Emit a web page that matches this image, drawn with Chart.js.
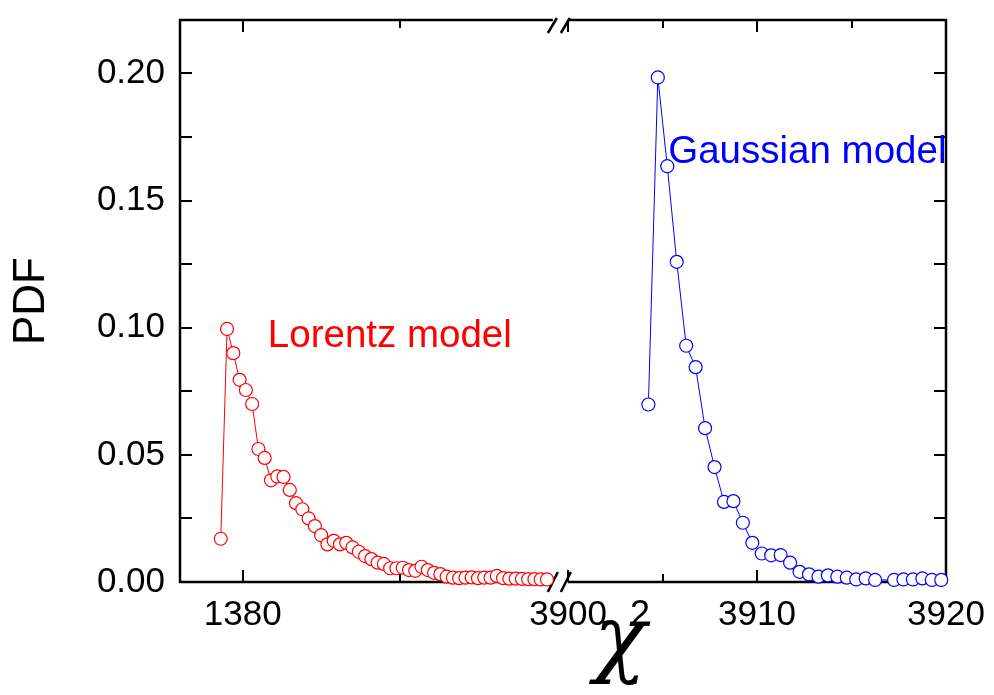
<!DOCTYPE html>
<html lang="en">
<head>
    <meta charset="UTF-8">
    <title>PDF of chi2</title>
    <script src="https://cdn.jsdelivr.net/npm/chart.js"></script>
    <style>
        html, body { margin: 0; padding: 0; background: #fff; }
    </style>
</head>
<body>
    <canvas id="myChart" width="994" height="695"></canvas>

    <script type="text/javascript">
        // Lorentz model (left part of the broken axis)
        const lorentzX = [1379.3, 1379.5, 1379.7, 1379.9, 1380.1, 1380.3, 1380.5, 1380.7, 1380.9, 1381.1,
            1381.3, 1381.5, 1381.7, 1381.9, 1382.1, 1382.3, 1382.5, 1382.7, 1382.9, 1383.1,
            1383.3, 1383.5, 1383.7, 1383.9, 1384.1, 1384.3, 1384.5, 1384.7, 1384.9, 1385.1,
            1385.3, 1385.5, 1385.7, 1385.9, 1386.1, 1386.3, 1386.5, 1386.7, 1386.9, 1387.1,
            1387.3, 1387.5, 1387.7, 1387.9, 1388.1, 1388.3, 1388.5, 1388.7, 1388.9, 1389.1,
            1389.3, 1389.5, 1389.7];
        const lorentzY = [0.017, 0.0995, 0.090, 0.0795, 0.0755, 0.070, 0.0523, 0.0488, 0.040, 0.0415,
            0.0413, 0.0362, 0.031, 0.0286, 0.025, 0.022, 0.0184, 0.0148, 0.0162, 0.0148,
            0.0154, 0.0136, 0.0119, 0.0102, 0.009, 0.0076, 0.0071, 0.0054, 0.0054, 0.0056,
            0.0047, 0.0044, 0.006, 0.0047, 0.0036, 0.0031, 0.0021, 0.0017, 0.0015, 0.0017,
            0.0018, 0.0015, 0.0017, 0.0017, 0.0024, 0.0015, 0.0013, 0.0013, 0.0012, 0.0011,
            0.0011, 0.001, 0.001];

        // Gaussian model (right part of the broken axis)
        const gaussX = [3904.25, 3904.75, 3905.25, 3905.75, 3906.25, 3906.75, 3907.25, 3907.75, 3908.25, 3908.75,
            3909.25, 3909.75, 3910.25, 3910.75, 3911.25, 3911.75, 3912.25, 3912.75, 3913.25, 3913.75,
            3914.25, 3914.75, 3915.25, 3915.75, 3916.25, 3917.25, 3917.75, 3918.25, 3918.75, 3919.25,
            3919.75];
        const gaussY = [0.0698, 0.1984, 0.1635, 0.1259, 0.0929, 0.0845, 0.0605, 0.0452, 0.0315, 0.0318,
            0.0233, 0.0154, 0.0112, 0.0105, 0.0106, 0.0076, 0.004, 0.003, 0.0021, 0.0026,
            0.0021, 0.0017, 0.001, 0.0014, 0.0008, 0.0008, 0.001, 0.001, 0.0014, 0.0008,
            0.0008];

        // tick labels
        const xLeftLabels = [1380];
        const xRightLabels = [3900, 3910, 3920];
        const yLabels = [0, 0.05, 0.10, 0.15, 0.20];

        const FONT = "'Liberation Sans', Arial, sans-serif";
        Chart.defaults.font.family = FONT;
        Chart.defaults.color = '#000';

        function toPoints(xs, ys) {
            return xs.map((x, i) => ({ x: x, y: ys[i] }));
        }

        function has(list, v) {
            return list.some(l => Math.abs(l - v) < 1e-9);
        }

        // fixed axis boxes so the plot area lands where the original one is
        function fitX(s) {
            s.height = 113;
            s.paddingLeft = 0; s.paddingRight = 0;
        }
        function fitY(s) {
            s.width = 180;
            s.paddingTop = 0; s.paddingBottom = 0;
        }

        const framePlugin = {
            id: 'frame',
            beforeDatasetsDraw(chart) {
                const { ctx, chartArea: a, scales } = chart;
                const xL = scales.xL, xR = scales.xR, y = scales.y;
                const xj = xL.right;
                ctx.save();
                ctx.strokeStyle = '#000';
                ctx.lineWidth = 2.5;
                ctx.beginPath();
                ctx.moveTo(a.left, a.top - 1.2); ctx.lineTo(a.left, a.bottom + 1.2);
                ctx.moveTo(a.right, a.top - 1.2); ctx.lineTo(a.right, a.bottom + 1.2);
                [a.top, a.bottom].forEach(yy => {
                    ctx.moveTo(a.left, yy); ctx.lineTo(xj - 2, yy);
                    ctx.moveTo(xj + 13, yy); ctx.lineTo(a.right, yy);
                });
                ctx.stroke();

                // inward ticks
                ctx.lineWidth = 2;
                ctx.beginPath();
                y.ticks.forEach(t => {
                    const py = Math.round(y.getPixelForValue(t.value));
                    ctx.moveTo(a.left, py); ctx.lineTo(a.left + 12, py);
                    ctx.moveTo(a.right, py); ctx.lineTo(a.right - 12, py);
                });
                [xL, xR].forEach(s => s.ticks.forEach(t => {
                    const px = Math.round(s.getPixelForValue(t.value));
                    const len = Math.abs(t.value % 10) < 1e-6 ? 12 : 8;
                    ctx.moveTo(px, a.bottom); ctx.lineTo(px, a.bottom - len);
                    ctx.moveTo(px, a.top); ctx.lineTo(px, a.top + len);
                }));
                ctx.stroke();

                // axis break marks
                ctx.lineWidth = 2.5;
                ctx.beginPath();
                [xj - 2, xj + 11].forEach(c => {
                    ctx.moveTo(c - 5, a.bottom + 10); ctx.lineTo(c + 5, a.bottom - 10);
                    ctx.moveTo(c - 5, a.top + 13); ctx.lineTo(c + 4, a.top - 2);
                });
                ctx.stroke();
                ctx.restore();
            },
            afterDraw(chart) {
                const { ctx, scales } = chart;
                const xL = scales.xL, xR = scales.xR, y = scales.y;
                ctx.save();
                ctx.textAlign = 'left';
                ctx.textBaseline = 'alphabetic';
                ctx.font = '38.5px ' + FONT;
                ctx.fillStyle = '#ff0000';
                ctx.fillText('Lorentz model', xL.getPixelForValue(1380.8), y.getPixelForValue(0.0925));
                ctx.fillStyle = '#0000ff';
                ctx.fillText('Gaussian model', xR.getPixelForValue(3905.3), y.getPixelForValue(0.1647));

                // axis titles
                ctx.fillStyle = '#000';
                ctx.save();
                ctx.translate(44, 301);
                ctx.rotate(-Math.PI / 2);
                ctx.textAlign = 'center';
                ctx.font = '44px ' + FONT;
                ctx.fillText('PDF', 0, 0);
                ctx.restore();

                ctx.textAlign = 'center';
                ctx.font = "italic 86px 'DejaVu Serif', serif";
                ctx.fillText('χ', 620, 666);
                ctx.font = '36px ' + FONT;
                ctx.fillText('2', 640, 626);
                ctx.restore();
            }
        };

        const ctx = document.getElementById('myChart');

        const myChart = new Chart(ctx, {
            type: 'line',
            data: {
                datasets: [{
                    label: 'Lorentz model',
                    data: toPoints(lorentzX, lorentzY),
                    xAxisID: 'xL',
                    yAxisID: 'y',
                    borderColor: '#ff0000',
                    backgroundColor: '#ffffff',
                    borderWidth: 1,
                    pointRadius: 6.5,
                    pointBorderWidth: 1.2,
                    pointBorderColor: '#ff0000',
                    pointBackgroundColor: '#ffffff',
                    tension: 0,
                    clip: false
                }, {
                    label: 'Gaussian model',
                    data: toPoints(gaussX, gaussY),
                    xAxisID: 'xR',
                    yAxisID: 'y',
                    borderColor: '#0000ff',
                    backgroundColor: '#ffffff',
                    borderWidth: 1,
                    pointRadius: 6.5,
                    pointBorderWidth: 1.2,
                    pointBorderColor: '#0000ff',
                    pointBackgroundColor: '#ffffff',
                    tension: 0,
                    clip: false
                }]
            },
            options: {
                responsive: false,
                animation: false,
                layout: { padding: { top: 20, right: 48, left: 0, bottom: 0 } },
                plugins: {
                    legend: { display: false },
                    tooltip: { enabled: false }
                },
                scales: {
                    xL: {
                        type: 'linear',
                        position: 'bottom',
                        stack: 'x',
                        stackWeight: 374.9,
                        min: 1378,
                        max: 1389.95,
                        grid: { display: false, drawTicks: false },
                        border: { display: false },
                        afterFit: fitX,
                        ticks: {
                            stepSize: 5,
                            includeBounds: false,
                            autoSkip: false,
                            maxRotation: 0,
                            padding: 12,
                            font: { size: 35 },
                            callback: v => has(xLeftLabels, v) ? String(v) : ''
                        }
                    },
                    xR: {
                        type: 'linear',
                        position: 'bottom',
                        stack: 'x',
                        stackWeight: 391.2,
                        min: 3899.3,
                        max: 3920,
                        grid: { display: false, drawTicks: false },
                        border: { display: false },
                        afterFit: fitX,
                        ticks: {
                            stepSize: 5,
                            includeBounds: false,
                            autoSkip: false,
                            maxRotation: 0,
                            padding: 12,
                            font: { size: 35 },
                            callback: v => has(xRightLabels, v) ? String(v) : ''
                        }
                    },
                    y: {
                        type: 'linear',
                        position: 'left',
                        min: 0,
                        max: 0.221,
                        grid: { display: false, drawTicks: false },
                        border: { display: false },
                        afterFit: fitY,
                        ticks: {
                            stepSize: 0.025,
                            includeBounds: false,
                            autoSkip: false,
                            padding: 15,
                            font: { size: 35 },
                            callback: v => has(yLabels, v) ? v.toFixed(2) : ''
                        }
                    }
                }
            },
            plugins: [framePlugin]
        });
    </script>
</body>
</html>
